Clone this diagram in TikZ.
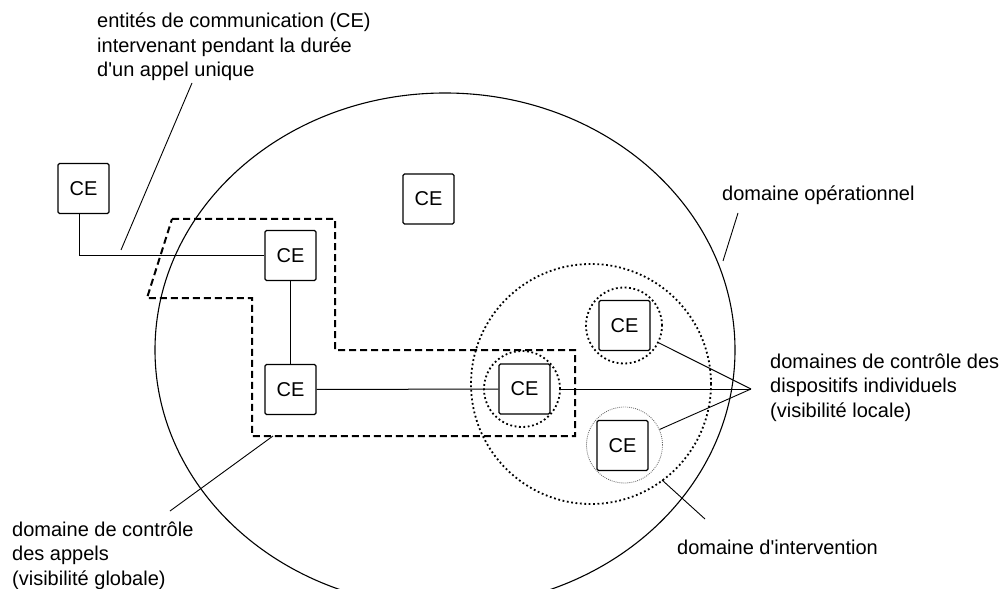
\documentclass[tikz,border=0pt]{standalone}
\usepackage{fontspec}
\setmainfont{Liberation Sans}[Ligatures=TeXOff]
\newcommand\lblfont{\fontsize{20bp}{24.5bp}\selectfont}
\newcommand\lines[1]{\begin{tabular}[t]{@{}l@{}}#1\end{tabular}}
\begin{document}
\begin{tikzpicture}[x=1bp,y=-1bp,
  ce/.style={draw, line width=1.1bp, rounded corners=1.5bp, minimum width=51bp,
    minimum height=50bp, inner sep=0pt, font=\lblfont},
  zone/.style={circle, draw, line width=1.8bp, dash pattern=on 1.8bp off 2.6bp,
    inner sep=0pt},
  thinzone/.style={circle, draw=black!60, line width=0.8bp,
    dash pattern=on 0.9bp off 1.1bp, inner sep=0pt},
  conn/.style={line width=1bp},
  leader/.style={line width=0.9bp},
  lbl/.style={font=\lblfont, inner sep=0pt, anchor=base west},
  callzone/.style={line width=2bp, dash pattern=on 7bp off 4bp}]
\useasboundingbox (0,0) rectangle (1002,589);
\clip (0,0) rectangle (1002,589);

% operational domain
\draw[line width=1.1bp] (445,350) ellipse [x radius=290bp, y radius=257bp];

% intervention domain and device control domains
\node[zone, minimum size=240bp] (dom) at (591,384) {};
\node[zone, minimum size=76bp] (c5) at (522,389) {};
\node[zone, minimum size=76bp] (c6) at (624,325.5) {};
\node[thinzone, minimum size=76bp] (c7) at (624.5,445) {};

% call control domain
\draw[callzone] (172,219) -- (335,219) -- (335,350) -- (575,350) -- (575,436)
  -- (252,436) -- (252,298) -- (147,298) -- cycle;

% communication entities
\node[ce, fill=white] (ce1) at (83.5,188.5) {CE};
\node[ce, fill=white] (ce2) at (428.5,199) {CE};
\node[ce, fill=white] (ce3) at (290.5,255.5) {CE};
\node[ce, fill=white] (ce4) at (290.5,389.5) {CE};
\node[ce, fill=white] (ce5) at (524.5,389) {CE};
\node[ce, fill=white] (ce6) at (624.5,325.5) {CE};
\node[ce, fill=white] (ce7) at (622.5,445.5) {CE};

% call path
\draw[conn] ([xshift=-4.5bp]ce1.south) |- (ce3.west);
\draw[conn] (ce3) -- (ce4);
\draw[conn] (ce4) -- (ce5);

% labels
\node[lbl] (tce) at (97,28) {\lines{entités de communication (CE)\\intervenant pendant la durée\\d'un appel unique}};
\node[lbl] (top) at (722,201) {domaine opérationnel};
\node[lbl] (tdev) at (770,368) {\lines{domaines de contrôle des\\dispositifs individuels\\(visibilité locale)}};
\node[lbl] (tcall) at (12,536) {\lines{domaine de contrôle\\des appels\\(visibilité globale)}};
\node[lbl] (tint) at (677,554) {domaine d'intervention};

% leader lines
\coordinate (conv) at (751,389);
\draw[leader] (c5.east) -- (conv);
\draw[leader] (conv) -- (c6);
\draw[leader] (conv) -- (c7);

\coordinate (a1) at (192,83);   \coordinate (a2) at (121,250);
\draw[leader] (a1) -- (a2);
\coordinate (b1) at (738,213);  \coordinate (b2) at (723,261);
\draw[leader] (b1) -- (b2);
\coordinate (d1) at (273,436);  \coordinate (d2) at (170,511);
\draw[leader] (d1) -- (d2);
\coordinate (f1) at (662,480);  \coordinate (f2) at (705,519);
\draw[leader] (f1) -- (f2);
\end{tikzpicture}
\end{document}
